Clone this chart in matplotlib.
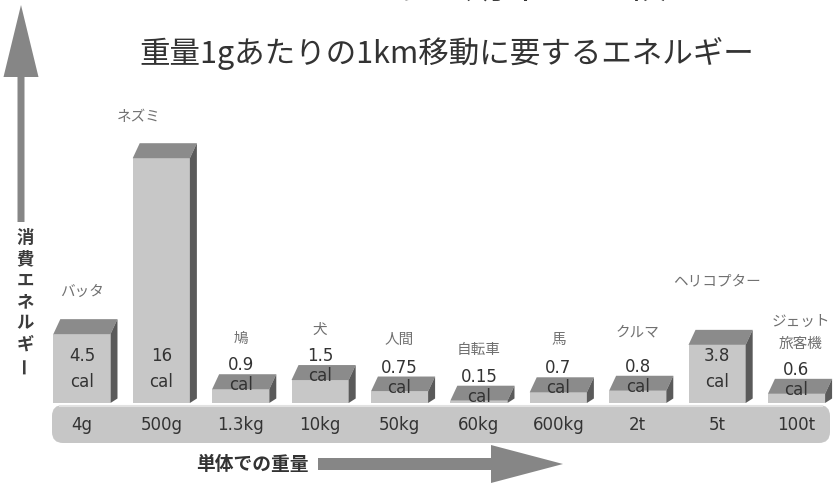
import matplotlib
matplotlib.use("Agg")
import matplotlib.pyplot as plt
from matplotlib.patches import Polygon, FancyBboxPatch, FancyArrow

plt.rcParams['font.family'] = ['Noto Sans CJK JP', 'DejaVu Sans']

# ---------------- data ----------------
names = ["バッタ", "ネズミ", "鳩", "犬", "人間", "自転車", "馬", "クルマ", "ヘリコプター", "ジェット\n旅客機"]
weights = ["4g", "500g", "1.3kg", "10kg", "50kg", "60kg", "600kg", "2t", "5t", "100t"]
energy = [4.5, 16, 0.9, 1.5, 0.75, 0.15, 0.7, 0.8, 3.8, 0.6]
value_labels = ["4.5", "16", "0.9", "1.5", "0.75", "0.15", "0.7", "0.8", "3.8", "0.6"]
unit = "cal"
title = "エネルギー効率の比較"
subtitle = "重量1gあたりの1km移動に要するエネルギー"
y_label = "消費エネルギー"
x_label = "単体での重量"

# ---------------- layout (pixels) ----------------
W, H, DPI = 837, 484, 100
PX_X = 79.4          # pixels per category
PX_Y = 15.3          # pixels per cal
BASE_PX = 403        # pixel row of y = 0
FIRST_PX = 81.9      # pixel column of first category
YMAX = 20
name_dy_px = [27, 26, 35, 35, 37, 36, 37, 43, 48, 46]
name_dx_px = [0, -23, 0, 0, 0, 0, 0, 0, 0, 4]
PT = 72 / DPI

FRONT = '#c7c7c7'
TOP = '#8b8b8b'
SIDE = '#5a5a5a'
ARROW = '#868686'

fig = plt.figure(figsize=(W / DPI, H / DPI), dpi=DPI)
fig.patch.set_facecolor('white')

# decoration layer in pixel coordinates
deco = fig.add_axes([0, 0, 1, 1], zorder=0)
deco.set_xlim(0, W)
deco.set_ylim(H, 0)
deco.axis('off')

# bar layer in data coordinates
left = FIRST_PX - 0.5 * PX_X
ax = fig.add_axes([left / W, (H - BASE_PX) / H, 10 * PX_X / W, YMAX * PX_Y / H], zorder=2)
ax.set_xlim(-0.5, 9.5)
ax.set_ylim(0, YMAX)
ax.axis('off')
ax.patch.set_alpha(0)

# strip under bars
deco.add_patch(FancyBboxPatch((52, 405), 778, 38, boxstyle="round,pad=0,rounding_size=11",
                              facecolor='#c6c6c6', edgecolor='none'))
deco.plot([60, 822], [406, 406], color='#e2e2e2', lw=1.5)

# arrows
deco.add_patch(FancyArrow(21, 222, 0, -217, width=7, head_width=35, head_length=72,
                          length_includes_head=True, color=ARROW, lw=0))
deco.add_patch(FancyArrow(318, 464, 245, 0, width=12, head_width=38, head_length=72,
                          length_includes_head=True, color=ARROW, lw=0))

# titles (main title is cut off by the top edge, as in the source image)
deco.text(466, 7, title, fontsize=29, ha='center', va='bottom', color='#333333')
deco.text(447, 53, subtitle, fontsize=22, ha='center', va='center', color='#333333')

# vertical y label
for k, ch in enumerate(y_label):
    deco.text(25, 238 + 21.3 * k, ch, fontsize=12.5, fontweight='bold', color='#3c3c3c',
              ha='center', va='center', rotation=90 if ch == 'ー' else 0)

# x label
deco.text(252, 464, x_label, fontsize=13.5, fontweight='bold', color='#333333',
          ha='center', va='center')

# 3D boxes
xs = list(range(len(energy)))
bw = 0.72
dx = 7 / PX_X
dy = 15 / PX_Y
ax.bar(xs, energy, width=bw, color=FRONT, linewidth=0, zorder=3)
for i, v in zip(xs, energy):
    x0, x1 = i - bw / 2, i + bw / 2
    ax.add_patch(Polygon([(x0, v), (x1, v), (x1 + dx, v + dy), (x0 + dx, v + dy)],
                         closed=True, facecolor=TOP, edgecolor='none', zorder=3))
    ax.add_patch(Polygon([(x1, 0), (x1, v), (x1 + dx, v + dy), (x1 + dx, dy * 0.3)],
                         closed=True, facecolor=SIDE, edgecolor='none', zorder=3))

# value labels, names and weights
for i, (v, lab, nm, wt) in enumerate(zip(energy, value_labels, names, weights)):
    if v >= 3:
        ax.text(i, 2.2, f"{lab}\n{unit}", ha='center', va='center', fontsize=12,
                family='DejaVu Sans', color='#333333', linespacing=1.55, zorder=5)
    else:
        ax.annotate(unit, (i, v), xytext=(0, 4 * PT), textcoords='offset points',
                    ha='center', va='center', fontsize=12, family='DejaVu Sans',
                    color='#333333', zorder=5)
        ax.annotate(lab, (i, v), xytext=(0, 24 * PT), textcoords='offset points',
                    ha='center', va='center', fontsize=12, family='DejaVu Sans',
                    color='#333333', zorder=5)
    ax.annotate(nm, (i, v + dy), xytext=(name_dx_px[i] * PT, name_dy_px[i] * PT),
                textcoords='offset points', ha='center', va='center', fontsize=10.5,
                color='#707070', linespacing=1.7, zorder=5)
    ax.annotate(wt, (i, 0), xytext=(0, -22 * PT), textcoords='offset points',
                ha='center', va='center', fontsize=12, family='DejaVu Sans',
                color='#333333', zorder=5, annotation_clip=False)

fig.savefig("out.png", dpi=DPI)
